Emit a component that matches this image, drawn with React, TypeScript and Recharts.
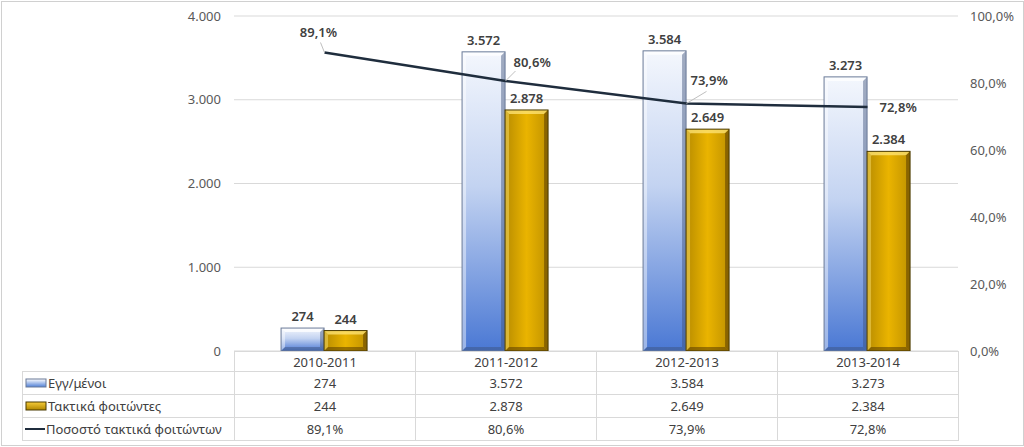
import { ComposedChart, Bar, Line, XAxis, YAxis, CartesianGrid, LabelList } from 'recharts';

const years = ['2010-2011', '2011-2012', '2012-2013', '2013-2014'];
const enrolled = [274, 3572, 3584, 3273];
const regular = [244, 2878, 2649, 2384];
const ratio = [89.1, 80.6, 73.9, 72.8];
const leftTicks = [0, 1000, 2000, 3000, 4000];
const rightTicks = [0, 20, 40, 60, 80, 100];

const seriesNames = ['Εγγ/μένοι', 'Τακτικά φοιτώντες', 'Ποσοστό τακτικά φοιτώντων'];

const data = years.map((y, i) => ({ year: y, enrolled: enrolled[i], regular: regular[i], ratio: ratio[i] }));

const fmtInt = (n: number) => String(Math.round(n)).replace(/\B(?=(\d{3})+(?!\d))/g, '.');
const fmtPct = (n: number) => n.toFixed(1).replace('.', ',') + '%';

const FONT = '"Noto Sans", sans-serif';
const W = 1024;
const H = 447;
const PLOT_L = 234;
const PLOT_R = 958;
const PLOT_T = 16;
const PLOT_B = 351;

function BevelBar(props: any) {
  const { x, y, width, height, kind } = props;
  if (!height || height <= 0) return null;
  const b = Math.min(4, height / 3);
  const fill = kind === 'blue' ? 'url(#blueGrad)' : 'url(#goldGrad)';
  const light = kind === 'blue' ? 'rgba(255,255,255,0.75)' : 'rgba(255,230,120,0.75)';
  const dark = kind === 'blue' ? 'rgba(60,80,120,0.45)' : 'rgba(90,60,0,0.55)';
  return (
    <g>
      <rect x={x} y={y} width={width} height={height} fill={fill} />
      <polygon points={`${x},${y} ${x + width},${y} ${x + width - b},${y + b} ${x + b},${y + b}`} fill={light} />
      <polygon points={`${x},${y} ${x + b},${y + b} ${x + b},${y + height - b} ${x},${y + height}`} fill={light} opacity={0.6} />
      <polygon points={`${x + width},${y} ${x + width - b},${y + b} ${x + width - b},${y + height - b} ${x + width},${y + height}`} fill={dark} />
      <polygon points={`${x},${y + height} ${x + b},${y + height - b} ${x + width - b},${y + height - b} ${x + width},${y + height}`} fill={dark} />
      <rect x={x} y={y} width={width} height={height} fill="none" stroke={kind === 'blue' ? '#6a7a98' : '#4a3a00'} strokeWidth={1} />
    </g>
  );
}

// label offsets relative to the line point, plus leader line end
const lineLabelPos = [
  { dx: -6, dy: -19, anchor: 'middle', lead: [-4, -10] },
  { dx: 8, dy: -18, anchor: 'start', lead: [10, -10] },
  { dx: 4, dy: -22, anchor: 'start', lead: [20, -12] },
  { dx: 12, dy: 1, anchor: 'start', lead: null as number[] | null },
];

function RatioLabel(props: any) {
  const { x, y, index, value } = props;
  const p = lineLabelPos[index];
  return (
    <g>
      {p.lead && <line x1={x} y1={y} x2={x + p.lead[0]} y2={y + p.lead[1]} stroke="#bfbfbf" strokeWidth={1} />}
      <text x={x + p.dx} y={y + p.dy} textAnchor={p.anchor} dominantBaseline="middle" fontSize={13} fontFamily={FONT} fontWeight={600} fill="#404040">
        {fmtPct(value)}
      </text>
    </g>
  );
}

function LegendIcon({ i }: { i: number }) {
  if (i === 2) return <svg width={20} height={10}><line x1={0} y1={5} x2={20} y2={5} stroke="#1f2d3d" strokeWidth={2} /></svg>;
  return (
    <svg width={22} height={10}>
      <defs>
        <linearGradient id={'lg' + i} x1="0" y1="0" x2="0" y2="1">
          {i === 0 ? <><stop offset="0" stopColor="#ffffff" /><stop offset="1" stopColor="#4f7fd6" /></> : <><stop offset="0" stopColor="#f7cd3a" /><stop offset="1" stopColor="#b08600" /></>}
        </linearGradient>
      </defs>
      <rect x={1} y={1} width={20} height={8} fill={`url(#lg${i})`} stroke={i === 0 ? '#6a7a98' : '#4a3a00'} />
    </svg>
  );
}

const rowValues = [enrolled.map(fmtInt), regular.map(fmtInt), ratio.map(fmtPct)];

export default function App() {
  const colW = (PLOT_R - PLOT_L) / years.length;
  const cell: any = { border: '1px solid #d9d9d9', textAlign: 'center', padding: 0, height: 22, fontSize: 13, color: '#404040' };
  return (
    <div style={{ position: 'fixed', left: 0, top: 0, width: W, height: H, background: '#fff', fontFamily: FONT }}>
      <div style={{ position: 'absolute', left: 1, top: 1, width: W - 3, height: H - 4, border: '1px solid #d0d0d0' }} />
      <ComposedChart width={W} height={H} data={data} margin={{ top: PLOT_T, right: W - PLOT_R - 66, left: 0, bottom: H - PLOT_B }} barGap={0} barCategoryGap="26%">
        <defs>
          <linearGradient id="blueGrad" x1="0" y1="0" x2="0" y2="1">
            <stop offset="0" stopColor="#f4f7fd" />
            <stop offset="0.45" stopColor="#c3d3f1" />
            <stop offset="1" stopColor="#4a78d4" />
          </linearGradient>
          <linearGradient id="goldGrad" x1="0" y1="0" x2="1" y2="0">
            <stop offset="0" stopColor="#b88c00" />
            <stop offset="0.5" stopColor="#eab400" />
            <stop offset="1" stopColor="#c09200" />
          </linearGradient>
        </defs>
        <CartesianGrid yAxisId="left" vertical={false} stroke="#d9d9d9" />
        <XAxis dataKey="year" hide />
        <YAxis yAxisId="left" width={PLOT_L} domain={[0, 4000]} ticks={leftTicks} tickFormatter={fmtInt} axisLine={false} tickLine={false} tickMargin={7} tick={{ fontSize: 13, fill: '#595959', fontFamily: FONT }} />
        <YAxis yAxisId="right" orientation="right" width={66} domain={[0, 100]} ticks={rightTicks} tickFormatter={fmtPct} axisLine={false} tickLine={false} tickMargin={6} tick={{ fontSize: 13, fill: '#595959', fontFamily: FONT, textAnchor: 'start' }} />
        <Bar yAxisId="left" dataKey="enrolled" name={seriesNames[0]} isAnimationActive={false} shape={(p: any) => <BevelBar {...p} kind="blue" />}>
          <LabelList dataKey="enrolled" position="top" offset={7} formatter={(v: any) => fmtInt(v)} style={{ fontSize: 13, fontWeight: 600, fill: '#404040', fontFamily: FONT }} />
        </Bar>
        <Bar yAxisId="left" dataKey="regular" name={seriesNames[1]} isAnimationActive={false} shape={(p: any) => <BevelBar {...p} kind="gold" />}>
          <LabelList dataKey="regular" position="top" offset={7} formatter={(v: any) => fmtInt(v)} style={{ fontSize: 13, fontWeight: 600, fill: '#404040', fontFamily: FONT }} />
        </Bar>
        <Line yAxisId="right" dataKey="ratio" name={seriesNames[2]} stroke="#1f2d3d" strokeWidth={2.5} dot={false} isAnimationActive={false}>
          <LabelList dataKey="ratio" content={(p: any) => <RatioLabel {...p} />} />
        </Line>
      </ComposedChart>
      <table style={{ position: 'absolute', left: 22, top: PLOT_B, borderCollapse: 'collapse', tableLayout: 'fixed', width: PLOT_R - 22 + 1 }}>
        <colgroup>
          <col style={{ width: PLOT_L - 22 }} />
          {years.map((y) => <col key={y} style={{ width: colW }} />)}
        </colgroup>
        <tbody>
          <tr>
            <td style={{ ...cell, border: 'none', height: 19 }} />
            {years.map((y) => <td key={y} style={{ ...cell, height: 19 }}>{y}</td>)}
          </tr>
          {seriesNames.map((name, i) => (
            <tr key={name}>
              <td style={{ ...cell, textAlign: 'left', paddingLeft: 2, whiteSpace: 'nowrap' }}>
                <span style={{ display: 'inline-flex', alignItems: 'center', gap: 1 }}>
                  <LegendIcon i={i} />
                  <span>{name}</span>
                </span>
              </td>
              {rowValues[i].map((v, j) => <td key={j} style={cell}>{v}</td>)}
            </tr>
          ))}
        </tbody>
      </table>
    </div>
  );
}
